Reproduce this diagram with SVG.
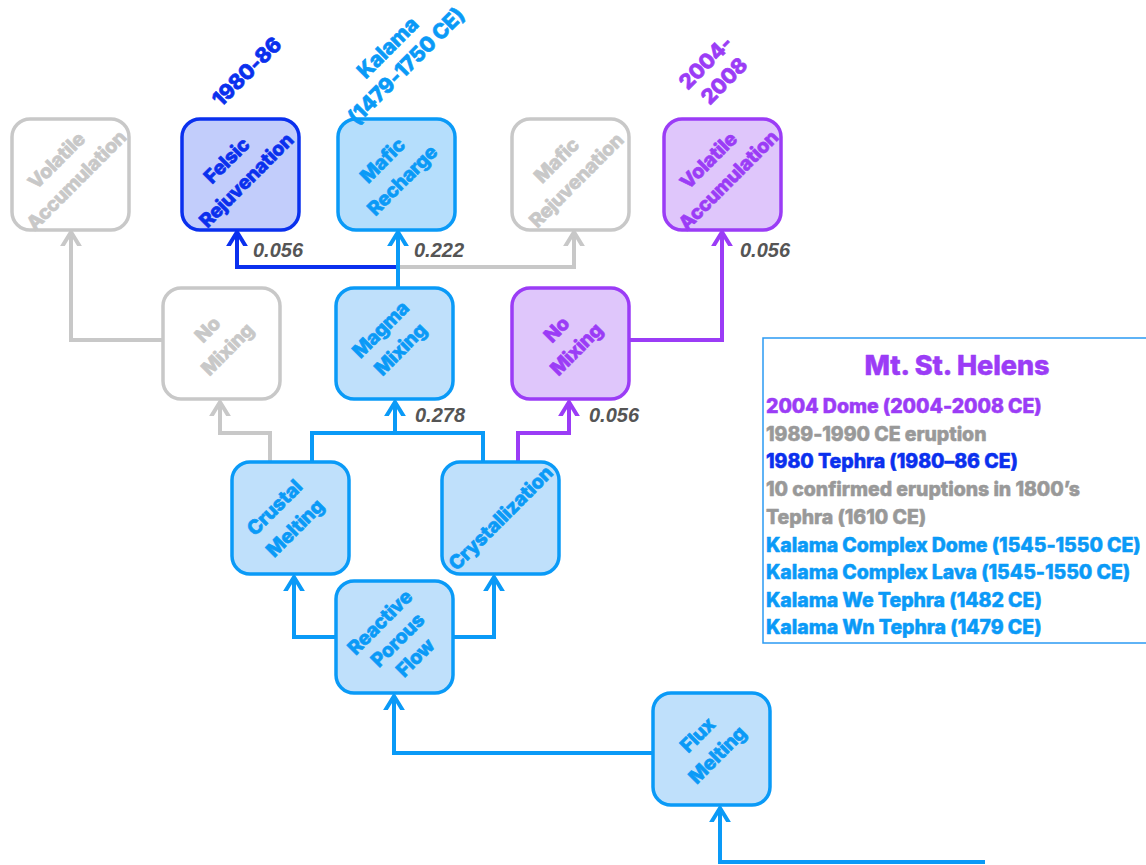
<svg xmlns="http://www.w3.org/2000/svg" width="1146" height="865" viewBox="0 0 1146 865">
  <style>
    .node rect { stroke-width: 3.5; }
    .node text { font-family: Inter, Roboto, "Liberation Sans", sans-serif; font-weight: 800; font-size: 19.5px; letter-spacing: -0.3px; text-anchor: middle; stroke-width: 0.6px; stroke-linejoin: round; }
    .blue rect { fill: #bfe0fb; stroke: #0a9af7; }
    .blue text { fill: #0a9af7; stroke: #0a9af7; }
    .lblue rect { fill: #b5defc; stroke: #0a9af7; }
    .dblue rect { fill: #c2cdfb; stroke: #0a30ee; }
    .dblue text { fill: #0a30ee; stroke: #0a30ee; }
    .purple rect { fill: #dfc6fb; stroke: #9b3cf6; }
    .purple text { fill: #9b3cf6; stroke: #9b3cf6; }
    .grey rect { fill: #ffffff; stroke: #c8c8c8; }
    .grey text { fill: #c8c8c8; stroke: #c8c8c8; }
    .edge { fill: none; stroke-width: 4; }
    .e-blue { stroke: #0a9af7; }
    .e-dblue { stroke: #0a30ee; }
    .e-purple { stroke: #9b3cf6; }
    .e-grey { stroke: #c8c8c8; }
    .prob { font-family: "Liberation Sans", Arial, sans-serif; font-weight: 700; font-style: italic; font-size: 20px; fill: #555555; }
    .era { font-family: Inter, Roboto, "Liberation Sans", sans-serif; font-weight: 800; font-size: 21px; letter-spacing: -0.3px; text-anchor: middle; stroke-width: 0.6px; stroke-linejoin: round; }
    .legend text { font-family: Inter, Roboto, "Liberation Sans", sans-serif; font-weight: 800; font-size: 19.5px; letter-spacing: -0.05px; stroke-width: 0.5px; stroke-linejoin: round; }
  </style>
  <defs>
    <marker id="arr-blue" markerUnits="userSpaceOnUse" viewBox="-14 -14 28 28" markerWidth="28" markerHeight="28" refX="0" refY="0" orient="auto">
      <polyline points="-18,-11 0,0 -18,11" fill="none" stroke="#0a9af7" stroke-width="4"/>
    </marker>
    <marker id="arr-dblue" markerUnits="userSpaceOnUse" viewBox="-14 -14 28 28" markerWidth="28" markerHeight="28" refX="0" refY="0" orient="auto">
      <polyline points="-18,-11 0,0 -18,11" fill="none" stroke="#0a30ee" stroke-width="4"/>
    </marker>
    <marker id="arr-purple" markerUnits="userSpaceOnUse" viewBox="-14 -14 28 28" markerWidth="28" markerHeight="28" refX="0" refY="0" orient="auto">
      <polyline points="-18,-11 0,0 -18,11" fill="none" stroke="#9b3cf6" stroke-width="4"/>
    </marker>
    <marker id="arr-grey" markerUnits="userSpaceOnUse" viewBox="-14 -14 28 28" markerWidth="28" markerHeight="28" refX="0" refY="0" orient="auto">
      <polyline points="-18,-11 0,0 -18,11" fill="none" stroke="#c8c8c8" stroke-width="4"/>
    </marker>
  </defs>

  <!-- connectors -->
  <g id="connectors">
    <path class="edge e-blue" d="M985,862 H720 V808" marker-end="url(#arr-blue)"/>
    <path class="edge e-blue" d="M653,753 H394 V696" marker-end="url(#arr-blue)"/>
    <path class="edge e-blue" d="M336,637 H294 V577" marker-end="url(#arr-blue)"/>
    <path class="edge e-blue" d="M453,637 H494 V577" marker-end="url(#arr-blue)"/>
    <path class="edge e-grey" d="M270,462 V433 H220 V402" marker-end="url(#arr-grey)"/>
    <path class="edge e-blue" d="M312,462 V433 H483 V462"/>
    <path class="edge e-blue" d="M395,433 V402" marker-end="url(#arr-blue)"/>
    <path class="edge e-purple" d="M518,462 V433 H569 V402" marker-end="url(#arr-purple)"/>
    <path class="edge e-grey" d="M163,340 H71 V232" marker-end="url(#arr-grey)"/>
    <path class="edge e-grey" d="M398,267 H574 V232" marker-end="url(#arr-grey)"/>
    <path class="edge e-dblue" d="M398,267 H237 V232" marker-end="url(#arr-dblue)"/>
    <path class="edge e-blue" d="M398,288 V232" marker-end="url(#arr-blue)"/>
    <path class="edge e-purple" d="M629,340 H722 V232" marker-end="url(#arr-purple)"/>
    <text class="prob" x="253" y="257">0.056</text>
    <text class="prob" x="414" y="257">0.222</text>
    <text class="prob" x="740" y="257">0.056</text>
    <text class="prob" x="415" y="422">0.278</text>
    <text class="prob" x="589" y="422">0.056</text>
  </g>

  <!-- top row -->
  <g id="volatile-accumulation-grey" class="node grey">
    <rect x="12" y="119" width="117" height="111" rx="18"/>
    <text transform="translate(70.5,174.5) rotate(-45)"><tspan x="0" y="-13">Volatile</tspan><tspan x="0" y="15">Accumulation</tspan></text>
  </g>
  <g id="felsic-rejuvenation" class="node dblue">
    <rect x="182" y="119" width="117" height="111" rx="18"/>
    <text transform="translate(240.5,174.5) rotate(-45)"><tspan x="0" y="-13">Felsic</tspan><tspan x="0" y="15">Rejuvenation</tspan></text>
  </g>
  <g id="mafic-recharge" class="node blue lblue">
    <rect x="338" y="119" width="117" height="111" rx="18"/>
    <text transform="translate(396.5,174.5) rotate(-45)"><tspan x="0" y="-13">Mafic</tspan><tspan x="0" y="15">Recharge</tspan></text>
  </g>
  <g id="mafic-rejuvenation" class="node grey">
    <rect x="512" y="119" width="117" height="111" rx="18"/>
    <text transform="translate(570.5,174.5) rotate(-45)"><tspan x="0" y="-13">Mafic</tspan><tspan x="0" y="15">Rejuvenation</tspan></text>
  </g>
  <g id="volatile-accumulation" class="node purple">
    <rect x="664" y="119" width="117" height="111" rx="18"/>
    <text transform="translate(722.5,174.5) rotate(-45)"><tspan x="0" y="-13">Volatile</tspan><tspan x="0" y="15">Accumulation</tspan></text>
  </g>

  <!-- era labels -->
  <g id="era-labels">
    <text class="era" fill="#0a30ee" stroke="#0a30ee" transform="translate(247,72) rotate(-45)"><tspan x="0" y="7">1980-86</tspan></text>
    <text class="era" fill="#0a9af7" stroke="#0a9af7" transform="translate(397,57) rotate(-45)"><tspan x="0" y="-6">Kalama</tspan><tspan x="0" y="20">(1479-1750 CE)</tspan></text>
    <text class="era" fill="#9b3cf6" stroke="#9b3cf6" transform="translate(715,72) rotate(-45)"><tspan x="0" y="-6">2004-</tspan><tspan x="0" y="20">2008</tspan></text>
  </g>

  <!-- second row -->
  <g id="no-mixing-grey" class="node grey">
    <rect x="163" y="288" width="117" height="111" rx="18"/>
    <text transform="translate(221.5,343.5) rotate(-45)"><tspan x="0" y="-13">No</tspan><tspan x="0" y="15">Mixing</tspan></text>
  </g>
  <g id="magma-mixing" class="node blue">
    <rect x="336" y="288" width="117" height="111" rx="18"/>
    <text transform="translate(394.5,343.5) rotate(-45)"><tspan x="0" y="-13">Magma</tspan><tspan x="0" y="15">Mixing</tspan></text>
  </g>
  <g id="no-mixing" class="node purple">
    <rect x="512" y="288" width="117" height="111" rx="18"/>
    <text transform="translate(570.5,343.5) rotate(-45)"><tspan x="0" y="-13">No</tspan><tspan x="0" y="15">Mixing</tspan></text>
  </g>

  <!-- third row -->
  <g id="crustal-melting" class="node blue">
    <rect x="232" y="462" width="117" height="112" rx="18"/>
    <text transform="translate(290.5,518) rotate(-45)"><tspan x="-4" y="-12">Crustal</tspan><tspan x="-4" y="17">Melting</tspan></text>
  </g>
  <g id="crystallization" class="node blue">
    <rect x="442" y="462" width="117" height="112" rx="18"/>
    <text transform="translate(500.5,518) rotate(-45)"><tspan x="0" y="7">Crystallization</tspan></text>
  </g>

  <!-- source nodes -->
  <g id="reactive-porous-flow" class="node blue">
    <rect x="336" y="581" width="117" height="112" rx="18"/>
    <text transform="translate(394.5,637) rotate(-45)"><tspan x="0" y="-14">Reactive</tspan><tspan x="0" y="11">Porous</tspan><tspan x="0" y="36">Flow</tspan></text>
  </g>
  <g id="flux-melting" class="node blue">
    <rect x="653" y="693" width="117" height="112" rx="18"/>
    <text transform="translate(711.5,749) rotate(-45)"><tspan x="0" y="-13">Flux</tspan><tspan x="0" y="15">Melting</tspan></text>
  </g>

  <!-- legend -->
  <g id="legend" class="legend">
    <rect x="763" y="338" width="390" height="305" fill="#ffffff" stroke="#2b9af3" stroke-width="1.5"/>
    <text x="957" y="375" text-anchor="middle" fill="#9b3cf6" stroke="#9b3cf6" style="font-size:27px">Mt. St. Helens</text>
    <text x="766" y="413" fill="#9b3cf6" stroke="#9b3cf6">2004 Dome (2004-2008 CE)</text>
    <text x="766" y="441" fill="#999999" stroke="#999999">1989-1990 CE eruption</text>
    <text x="766" y="468" fill="#0a30ee" stroke="#0a30ee">1980 Tephra (1980–86 CE)</text>
    <text x="766" y="496" fill="#999999" stroke="#999999">10 confirmed eruptions in 1800’s</text>
    <text x="766" y="524" fill="#999999" stroke="#999999">Tephra (1610 CE)</text>
    <text x="766" y="552" fill="#0a9af7" stroke="#0a9af7">Kalama Complex Dome (1545-1550 CE)</text>
    <text x="766" y="579" fill="#0a9af7" stroke="#0a9af7">Kalama Complex Lava (1545-1550 CE)</text>
    <text x="766" y="607" fill="#0a9af7" stroke="#0a9af7">Kalama We Tephra (1482 CE)</text>
    <text x="766" y="634" fill="#0a9af7" stroke="#0a9af7">Kalama Wn Tephra (1479 CE)</text>
  </g>
</svg>
